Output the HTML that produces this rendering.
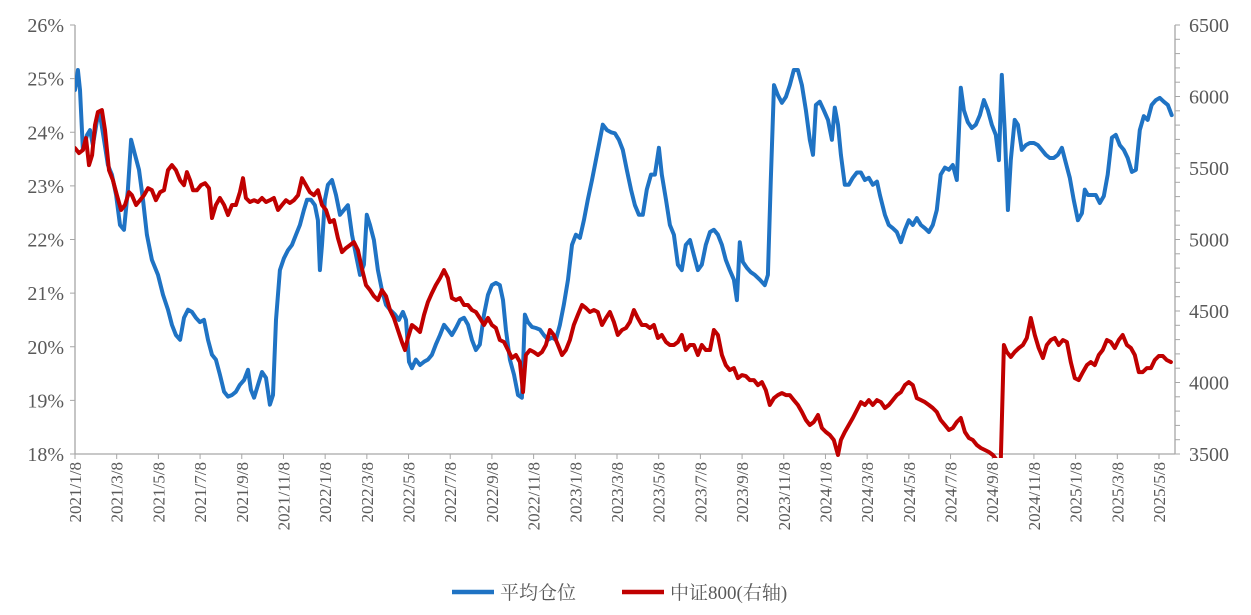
<!DOCTYPE html>
<html><head><meta charset="utf-8"><style>
html,body{margin:0;padding:0;background:#fff;width:1251px;height:615px;overflow:hidden}
svg{display:block}
text{font-family:"Liberation Serif","Noto Serif CJK SC",serif;fill:#595959}
</style></head><body>
<svg id="chart" width="1251" height="615" xmlns="http://www.w3.org/2000/svg">
<defs><clipPath id="plotclip"><rect x="75" y="20" width="1100" height="438"/></clipPath></defs>
<g id="axes"></g>
<g id="series" clip-path="url(#plotclip)"></g>
<g id="legend">
<g><line x1="452" y1="592" x2="494" y2="592" stroke="#1f73c4" stroke-width="4.5"/><text x="500" y="599" font-size="19">平均仓位</text></g>
<g><line x1="622" y1="592" x2="664" y2="592" stroke="#c00000" stroke-width="4.5"/><text x="670" y="599" font-size="19">中证800(右轴)</text></g>
</g>
</svg>
<script>
const xTickLabels=["2021/1/8","2021/3/8","2021/5/8","2021/7/8","2021/9/8","2021/11/8","2022/1/8","2022/3/8","2022/5/8","2022/7/8","2022/9/8","2022/11/8","2023/1/8","2023/3/8","2023/5/8","2023/7/8","2023/9/8","2023/11/8","2024/1/8","2024/3/8","2024/5/8","2024/7/8","2024/9/8","2024/11/8","2025/1/8","2025/3/8","2025/5/8"];
const leftTicks=[18,19,20,21,22,23,24,25,26];
const rightTicks=[3500,4000,4500,5000,5500,6000,6500];
// months since 2021/1/8 and values
const posMonths=[0,0.14,0.24,0.38,0.58,0.72,0.86,1.06,1.2,1.39,1.58,1.77,1.97,2.16,2.35,2.54,2.69,2.88,3.07,3.26,3.45,3.69,3.98,4.22,4.46,4.65,4.84,5.04,5.23,5.42,5.61,5.8,5.99,6.19,6.38,6.57,6.76,6.95,7.15,7.34,7.53,7.72,7.91,8.11,8.3,8.44,8.59,8.78,8.97,9.16,9.35,9.5,9.64,9.83,10.02,10.22,10.41,10.6,10.79,10.98,11.13,11.32,11.51,11.65,11.75,11.85,11.99,12.13,12.33,12.52,12.71,12.9,13.09,13.29,13.48,13.67,13.86,14.0,14.15,14.34,14.53,14.72,14.92,15.11,15.35,15.54,15.73,15.88,16.02,16.16,16.35,16.55,16.74,16.93,17.12,17.31,17.51,17.7,17.89,18.08,18.27,18.47,18.66,18.85,19.04,19.23,19.42,19.62,19.81,20.0,20.19,20.38,20.53,20.67,20.86,21.06,21.25,21.44,21.58,21.73,21.92,22.11,22.3,22.49,22.69,22.88,23.07,23.26,23.45,23.65,23.84,24.03,24.22,24.41,24.6,24.8,24.99,25.18,25.32,25.52,25.71,25.9,26.09,26.28,26.47,26.67,26.86,27.05,27.24,27.43,27.63,27.82,28.01,28.15,28.35,28.54,28.73,28.92,29.11,29.3,29.5,29.69,29.88,30.07,30.26,30.46,30.65,30.84,31.03,31.22,31.41,31.61,31.75,31.89,32.04,32.23,32.42,32.61,32.85,33.09,33.24,33.38,33.53,33.72,33.91,34.1,34.29,34.48,34.68,34.87,35.06,35.25,35.4,35.54,35.73,35.92,36.12,36.31,36.45,36.6,36.74,36.93,37.12,37.31,37.51,37.7,37.89,38.08,38.27,38.47,38.61,38.85,39.04,39.23,39.42,39.62,39.81,40.0,40.19,40.38,40.58,40.77,40.96,41.15,41.34,41.53,41.73,41.92,42.11,42.3,42.49,42.64,42.83,43.02,43.21,43.41,43.6,43.79,43.98,44.17,44.32,44.46,44.6,44.75,44.89,45.08,45.23,45.42,45.61,45.8,46.0,46.19,46.38,46.57,46.76,46.95,47.15,47.34,47.53,47.72,47.91,48.11,48.3,48.44,48.59,48.78,48.97,49.16,49.35,49.54,49.74,49.93,50.12,50.31,50.5,50.7,50.89,51.08,51.27,51.46,51.65,51.85,52.04,52.23,52.42,52.61];
const posValues=[24.79,25.16,24.79,23.67,23.95,24.04,23.76,24.23,24.32,23.86,23.39,23.21,22.83,22.27,22.18,22.93,23.86,23.58,23.3,22.74,22.09,21.62,21.34,20.97,20.69,20.41,20.22,20.13,20.54,20.69,20.65,20.54,20.46,20.5,20.13,19.85,19.76,19.48,19.16,19.07,19.1,19.16,19.29,19.38,19.57,19.2,19.05,19.29,19.53,19.42,18.92,19.1,20.5,21.43,21.65,21.8,21.9,22.09,22.27,22.55,22.74,22.74,22.64,22.36,21.43,21.9,22.74,23.02,23.11,22.83,22.46,22.55,22.64,22.09,21.71,21.34,21.53,22.46,22.27,21.99,21.43,21.06,20.78,20.69,20.6,20.5,20.65,20.5,19.72,19.6,19.76,19.66,19.72,19.76,19.85,20.04,20.22,20.41,20.32,20.22,20.35,20.5,20.54,20.41,20.13,19.94,20.04,20.6,20.97,21.15,21.19,21.15,20.87,20.32,19.76,19.48,19.1,19.05,20.6,20.46,20.37,20.35,20.32,20.22,20.13,20.17,20.13,20.41,20.78,21.25,21.9,22.09,22.03,22.36,22.74,23.11,23.48,23.86,24.14,24.04,24.0,23.98,23.86,23.67,23.3,22.93,22.64,22.46,22.46,22.93,23.21,23.21,23.71,23.21,22.74,22.27,22.09,21.53,21.43,21.9,21.99,21.71,21.43,21.53,21.9,22.14,22.18,22.09,21.9,21.62,21.43,21.25,20.87,21.95,21.58,21.47,21.39,21.34,21.25,21.15,21.34,23.11,24.88,24.69,24.55,24.66,24.88,25.16,25.16,24.88,24.41,23.86,23.58,24.51,24.57,24.41,24.23,23.86,24.46,24.14,23.58,23.02,23.02,23.15,23.25,23.25,23.11,23.15,23.02,23.08,22.83,22.46,22.27,22.21,22.14,21.95,22.18,22.36,22.27,22.4,22.27,22.21,22.14,22.27,22.55,23.21,23.34,23.3,23.39,23.11,24.83,24.41,24.19,24.08,24.14,24.32,24.6,24.41,24.14,23.95,23.48,25.07,24.04,22.55,23.48,24.23,24.14,23.67,23.76,23.8,23.8,23.76,23.67,23.58,23.52,23.52,23.58,23.71,23.43,23.15,22.74,22.36,22.49,22.93,22.83,22.83,22.83,22.68,22.81,23.21,23.9,23.95,23.76,23.67,23.52,23.26,23.3,24.04,24.3,24.23,24.51,24.6,24.64,24.57,24.51,24.32];
const idxMonths=[0,0.19,0.38,0.53,0.67,0.82,0.96,1.1,1.29,1.44,1.63,1.82,2.01,2.21,2.4,2.59,2.73,2.93,3.12,3.31,3.5,3.69,3.88,4.08,4.27,4.46,4.65,4.84,5.04,5.23,5.37,5.52,5.66,5.85,6.04,6.24,6.43,6.57,6.76,6.95,7.15,7.34,7.53,7.72,7.91,8.06,8.2,8.39,8.59,8.78,8.97,9.16,9.35,9.54,9.74,9.93,10.12,10.31,10.5,10.7,10.89,11.08,11.27,11.46,11.65,11.85,12.04,12.23,12.42,12.61,12.81,13.0,13.19,13.38,13.57,13.76,13.96,14.15,14.34,14.53,14.72,14.92,15.11,15.3,15.49,15.68,15.83,15.97,16.16,16.35,16.55,16.74,16.93,17.12,17.31,17.51,17.7,17.89,18.08,18.27,18.47,18.66,18.85,19.04,19.23,19.42,19.62,19.81,20.0,20.19,20.38,20.58,20.77,20.96,21.15,21.34,21.49,21.63,21.82,22.01,22.21,22.4,22.59,22.78,22.97,23.17,23.36,23.55,23.74,23.93,24.12,24.32,24.51,24.7,24.89,25.08,25.28,25.47,25.66,25.85,26.04,26.24,26.43,26.62,26.81,27.0,27.19,27.39,27.58,27.77,27.96,28.15,28.35,28.54,28.73,28.92,29.11,29.3,29.5,29.69,29.88,30.07,30.26,30.46,30.65,30.84,31.03,31.22,31.41,31.61,31.8,31.99,32.18,32.37,32.57,32.76,32.95,33.14,33.33,33.53,33.72,33.91,34.1,34.29,34.48,34.68,34.87,35.06,35.25,35.44,35.64,35.83,36.02,36.21,36.4,36.6,36.74,36.93,37.12,37.31,37.51,37.7,37.89,38.08,38.27,38.47,38.66,38.85,39.04,39.23,39.42,39.62,39.81,40.0,40.19,40.38,40.58,40.77,40.96,41.15,41.34,41.53,41.73,41.92,42.11,42.3,42.49,42.69,42.88,43.07,43.26,43.45,43.65,43.84,44.03,44.22,44.41,44.56,44.7,44.89,45.08,45.28,45.47,45.66,45.85,46.04,46.23,46.43,46.62,46.81,47.0,47.19,47.39,47.58,47.77,47.96,48.15,48.35,48.54,48.73,48.92,49.11,49.3,49.5,49.69,49.88,50.07,50.26,50.46,50.65,50.84,51.03,51.22,51.42,51.61,51.8,51.99,52.18,52.37,52.57];
const idxValues=[5639,5604,5625,5709,5520,5590,5800,5891,5905,5765,5485,5415,5310,5206,5241,5331,5310,5241,5275,5310,5359,5345,5275,5331,5345,5485,5520,5485,5415,5380,5471,5415,5345,5345,5380,5394,5359,5150,5241,5290,5241,5171,5241,5241,5331,5429,5290,5262,5275,5262,5290,5262,5275,5290,5206,5241,5275,5255,5275,5310,5429,5380,5331,5310,5345,5241,5206,5122,5136,5010,4912,4940,4961,4982,4926,4800,4681,4646,4604,4576,4646,4604,4507,4451,4367,4283,4227,4311,4402,4381,4353,4472,4562,4625,4681,4730,4786,4730,4590,4576,4590,4542,4542,4507,4493,4451,4402,4451,4402,4381,4297,4283,4227,4171,4192,4143,3933,4192,4227,4213,4192,4213,4262,4367,4332,4262,4192,4227,4297,4402,4472,4542,4521,4493,4507,4493,4402,4451,4493,4423,4332,4367,4381,4423,4507,4451,4402,4402,4381,4402,4311,4332,4283,4262,4262,4283,4332,4227,4262,4262,4192,4262,4227,4227,4367,4332,4192,4122,4087,4101,4031,4052,4045,4017,4017,3982,4003,3947,3843,3891,3912,3926,3912,3912,3877,3843,3794,3738,3703,3724,3773,3682,3654,3633,3598,3493,3598,3654,3703,3752,3808,3863,3843,3877,3843,3877,3863,3822,3843,3877,3912,3933,3982,4003,3982,3891,3877,3863,3843,3822,3794,3738,3703,3668,3682,3724,3752,3654,3612,3598,3563,3542,3528,3514,3493,3458,3458,4262,4213,4178,4213,4241,4262,4311,4451,4332,4241,4171,4262,4297,4311,4262,4297,4283,4143,4031,4017,4073,4122,4143,4122,4192,4227,4297,4283,4241,4297,4332,4262,4241,4192,4073,4073,4101,4101,4157,4185,4185,4157,4143];

const NS="http://www.w3.org/2000/svg";
const X0=75,X1=1175,Y0=454,Y1=25,MPX=(1159-75)/52;
const xs=m=>X0+m*MPX;
const yl=v=>Y0-(v-18)/8*(Y0-Y1);
const yr=v=>Y0-(v-3500)/3000*(Y0-Y1);
function mk(tag,attrs,parent){const e=document.createElementNS(NS,tag);for(const k in attrs)e.setAttribute(k,attrs[k]);parent.appendChild(e);return e;}
const axes=document.getElementById('axes');
const ax='#a6a6a6';
let e;
e=mk('line',{x1:X0,y1:Y1,x2:X0,y2:Y0,stroke:ax,'stroke-width':1.3},axes);


e=mk('line',{x1:X1,y1:Y1,x2:X1,y2:Y0,stroke:ax,'stroke-width':1.3},axes);


e=mk('line',{x1:X0,y1:Y0,x2:X1,y2:Y0,stroke:ax,'stroke-width':1.3},axes);


leftTicks.forEach(v=>{
  mk('line',{x1:X0-5,y1:yl(v),x2:X0,y2:yl(v),stroke:ax},axes);
  const t=mk('text',{x:64,y:yl(v)+7,'text-anchor':'end','font-size':20},axes);t.textContent=v+'%';
  
  
});
for(let v=3500;v<=6500;v+=100){mk('line',{x1:X1,y1:yr(v),x2:X1+5,y2:yr(v),stroke:ax},axes);}
rightTicks.forEach(v=>{
  const t=mk('text',{x:1189,y:yr(v)+7,'font-size':20},axes);t.textContent=v;
  
  
});
xTickLabels.forEach((l,i)=>{
  const x=xs(i*2);
  mk('line',{x1:x,y1:Y0,x2:x,y2:Y0+5,stroke:ax},axes);
  const t=mk('text',{x:0,y:0,'text-anchor':'end','font-size':17,transform:`translate(${x+6},${Y0+8}) rotate(-90)`},axes);t.textContent=l;
  
  
});
const ser=document.getElementById('series');
function path(ms,vs,yf){return ms.map((m,i)=>(i?'L':'M')+xs(m).toFixed(1)+','+yf(vs[i]).toFixed(1)).join('');}
e=mk('path',{d:path(posMonths,posValues,yl),fill:'none',stroke:'#1f73c4','stroke-width':4,'stroke-linejoin':'round','stroke-linecap':'round'},ser);


e=mk('path',{d:path(idxMonths,idxValues,yr),fill:'none',stroke:'#c00000','stroke-width':4,'stroke-linejoin':'round','stroke-linecap':'round'},ser);


</script>
</body></html>
